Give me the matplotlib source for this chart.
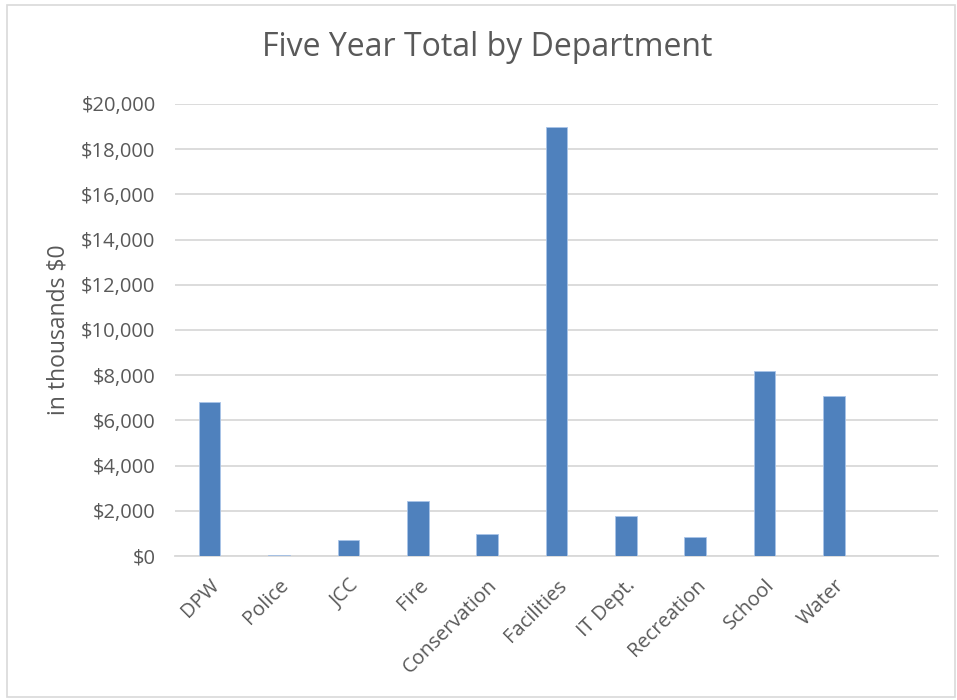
import matplotlib.pyplot as plt
from matplotlib.patches import Rectangle
from matplotlib.ticker import FuncFormatter, MultipleLocator

departments = ["DPW", "Police", "JCC", "Fire", "Conservation", "Facilities",
               "IT Dept.", "Recreation", "School", "Water", ""]
totals = [6800, 50, 700, 2430, 960, 18970, 1760, 850, 8190, 7090, 0]

text_color = "#595959"
plt.rcParams['font.family'] = ['Open Sans', 'DejaVu Sans']

fig = plt.figure(figsize=(9.57, 7.0), dpi=100)
ax = fig.add_axes([175 / 957, 1 - 556 / 700, (938 - 175) / 957, (556 - 104) / 700])

# chart border like Excel
fig.patches.append(Rectangle((7 / 957, 3 / 700), 948 / 957, 692 / 700,
                             transform=fig.transFigure, fill=False,
                             edgecolor="#D9D9D9", linewidth=1.2))

x = range(len(departments))
ax.bar(x, totals, width=0.31, color="#4F81BD", edgecolor="#A9C4E8",
       linewidth=0.6, zorder=3)

ax.set_xlim(-0.5, len(departments) - 0.5)
ax.set_ylim(0, 20000)
ax.yaxis.set_major_locator(MultipleLocator(2000))
ax.yaxis.set_major_formatter(FuncFormatter(lambda v, p: "${:,.0f}".format(v)))
ax.grid(axis="y", color="#D9D9D9", linewidth=1.3, zorder=0)

ax.set_xticks(list(x))
ax.set_xticklabels(departments, rotation=45, ha="right",
                   rotation_mode="anchor", fontsize=14.5, color=text_color)
for lab in ax.get_yticklabels():
    lab.set_fontsize(14.5)
    lab.set_color(text_color)
ax.tick_params(axis="y", length=0, pad=14)
ax.tick_params(axis="x", length=0, pad=14)

for s in ["top", "right", "left"]:
    ax.spines[s].set_visible(False)
ax.spines["bottom"].set_color("#D9D9D9")
ax.spines["bottom"].set_linewidth(1.3)

ax.set_ylabel("in thousands $0", fontsize=16.5, color=text_color, labelpad=8)
fig.text(487 / 957, 1 - 48 / 700, "Five Year Total by Department",
         ha="center", va="center", fontsize=23, color=text_color)

fig.savefig("out.png", dpi=100)
